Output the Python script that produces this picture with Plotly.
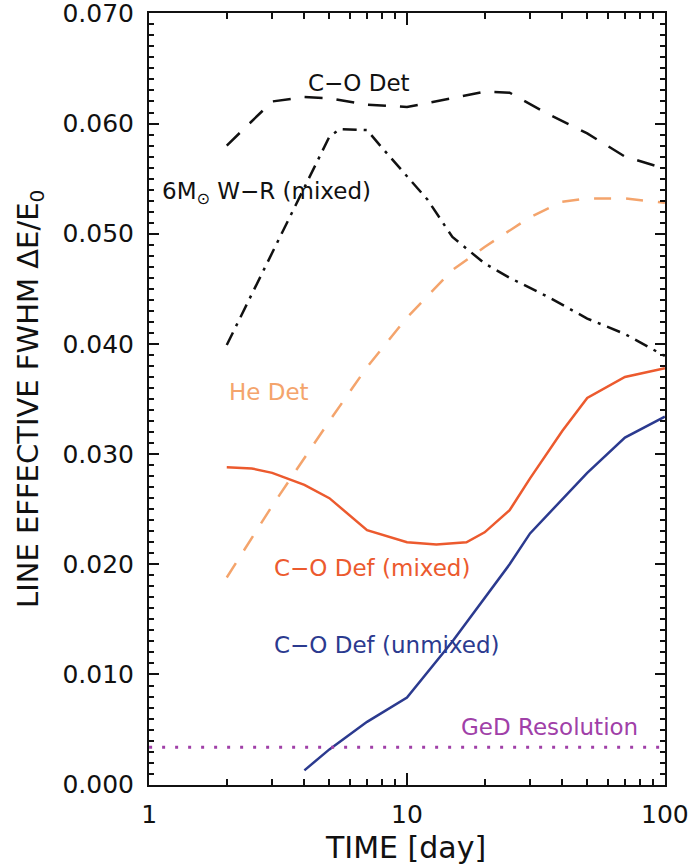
import numpy as np
import plotly.graph_objects as go

# ---- data ----
co_det_t = [2, 3, 4, 5, 7, 10, 15, 20, 25, 35, 50, 70, 100]
co_det_v = [0.0580, 0.0620, 0.0624, 0.0623, 0.0617, 0.0615, 0.0623, 0.0629, 0.0628, 0.0609, 0.0591, 0.0570, 0.0559]

wr_t = [2, 3, 4, 5, 5.5, 7, 8, 10, 12, 15, 20, 25, 35, 50, 70, 100]
wr_v = [0.0399, 0.0483, 0.0542, 0.0588, 0.0595, 0.0594, 0.0578, 0.0552, 0.0531, 0.0497, 0.0473, 0.0460, 0.0443, 0.0423, 0.0409, 0.0389]

he_t = [2, 3, 5, 7, 10, 15, 20, 30, 40, 50, 70, 100]
he_v = [0.0188, 0.0253, 0.0330, 0.0379, 0.0424, 0.0467, 0.0488, 0.0515, 0.0529, 0.0532, 0.0532, 0.0528]

mix_t = [2, 2.5, 3, 4, 5, 7, 10, 13, 17, 20, 25, 30, 40, 50, 70, 100]
mix_v = [0.0288, 0.0287, 0.0283, 0.0272, 0.0260, 0.0231, 0.0220, 0.0218, 0.0220, 0.0229, 0.0249, 0.0278, 0.0321, 0.0351, 0.0370, 0.0378]

unmix_t = [4, 5, 7, 10, 15, 20, 25, 30, 50, 70, 100]
unmix_v = [0.0013, 0.0032, 0.0057, 0.0079, 0.0130, 0.0170, 0.0200, 0.0228, 0.0283, 0.0315, 0.0334]

ged_t = [1, 100]
ged_v = [0.0034, 0.0034]

y_ticks = [0.00, 0.01, 0.02, 0.03, 0.04, 0.05, 0.06, 0.07]
y_ticktext = ["0.000", "0.010", "0.020", "0.030", "0.040", "0.050", "0.060", "0.070"]
x_ticks = [1, 10, 100]
x_ticktext = ["1", "10", "100"]
x_minor = [2, 3, 4, 5, 6, 7, 8, 9, 20, 30, 40, 50, 60, 70, 80, 90]

BLACK = "#111111"
ORANGE_L = "#F4A46C"
RED = "#EC5A2E"
BLUE = "#2B3A8F"
PURPLE = "#A040A8"
FONT = "DejaVu Sans"
LW = 2.5

fig = go.Figure()
fig.add_trace(go.Scatter(x=co_det_t, y=co_det_v, mode="lines",
                         line=dict(color=BLACK, width=LW, dash="18px,14px")))
fig.add_trace(go.Scatter(x=wr_t, y=wr_v, mode="lines",
                         line=dict(color=BLACK, width=LW, dash="14px,7px,3px,7px")))
fig.add_trace(go.Scatter(x=he_t, y=he_v, mode="lines",
                         line=dict(color=ORANGE_L, width=LW, dash="17px,15px")))
fig.add_trace(go.Scatter(x=mix_t, y=mix_v, mode="lines",
                         line=dict(color=RED, width=LW)))
fig.add_trace(go.Scatter(x=unmix_t, y=unmix_v, mode="lines",
                         line=dict(color=BLUE, width=LW)))
fig.add_trace(go.Scatter(x=ged_t, y=ged_v, mode="lines",
                         line=dict(color=PURPLE, width=3, dash="3px,10px")))

labels = [
    dict(text="C\u2212O Det", x=6.52, y=0.06365, xanchor="center", color=BLACK),
    dict(text="6M<sub>\u2299</sub> W\u2212R (mixed)", x=1.103, y=0.0537, xanchor="left", color=BLACK),
    dict(text="He Det", x=2.005, y=0.03564, xanchor="left", color=ORANGE_L),
    dict(text="C\u2212O Def (mixed)", x=3.0, y=0.0197, xanchor="left", color=RED),
    dict(text="C\u2212O Def (unmixed)", x=3.0, y=0.0127, xanchor="left", color=BLUE),
    dict(text="GeD Resolution", x=80, y=0.0052, xanchor="right", color=PURPLE),
]
annots = []
for a in labels:
    annots.append(dict(text=a["text"], x=np.log10(a["x"]), y=a["y"], xref="x", yref="y",
                       xanchor=a["xanchor"], yanchor="middle", showarrow=False,
                       font=dict(family=FONT, size=23, color=a["color"])))
annots.append(dict(text="LINE EFFECTIVE FWHM \u0394E/E<sub>0</sub>", xref="paper", yref="paper",
                   x=-0.2306, y=0.5, textangle=-90, showarrow=False,
                   xanchor="center", yanchor="middle",
                   font=dict(family=FONT, size=29, color=BLACK)))
annots.append(dict(text="TIME [day]", xref="paper", yref="paper",
                   x=0.497, y=-0.0816, showarrow=False,
                   xanchor="center", yanchor="middle",
                   font=dict(family=FONT, size=30, color=BLACK)))

fig.update_layout(
    width=691, height=866,
    margin=dict(l=149, r=26, t=13, b=81, autoexpand=False),
    paper_bgcolor="white", plot_bgcolor="white",
    showlegend=False,
    annotations=annots,
    font=dict(family=FONT, color=BLACK),
)
fig.update_xaxes(type="log", range=[-0.0005, 2.0005], tickmode="array", tickvals=x_ticks, ticktext=x_ticktext,
                 automargin=False, ticklabeloverflow="allow",
                 ticks="inside", ticklen=12, tickwidth=1.5, tickcolor=BLACK,
                 minor=dict(tickmode="array", tickvals=x_minor, ticks="inside", ticklen=6, tickwidth=1.5,
                            tickcolor=BLACK, showgrid=False),
                 showline=True, linecolor=BLACK, linewidth=2, mirror="allticks",
                 showgrid=False, zeroline=False,
                 tickfont=dict(family=FONT, size=25, color=BLACK), ticklabelstandoff=6)
fig.update_yaxes(range=[-0.00003, 0.07003], tickmode="array", tickvals=y_ticks, ticktext=y_ticktext,
                 automargin=False, ticklabeloverflow="allow",
                 ticks="inside", ticklen=10, tickwidth=1.5, tickcolor=BLACK,
                 minor=dict(dtick=0.001, tick0=0, ticks="inside", ticklen=5, tickwidth=1.5,
                            tickcolor=BLACK, showgrid=False),
                 showline=True, linecolor=BLACK, linewidth=2, mirror="allticks",
                 showgrid=False, zeroline=False,
                 tickfont=dict(family=FONT, size=25, color=BLACK), ticklabelstandoff=8)

fig.write_html("out.html")
